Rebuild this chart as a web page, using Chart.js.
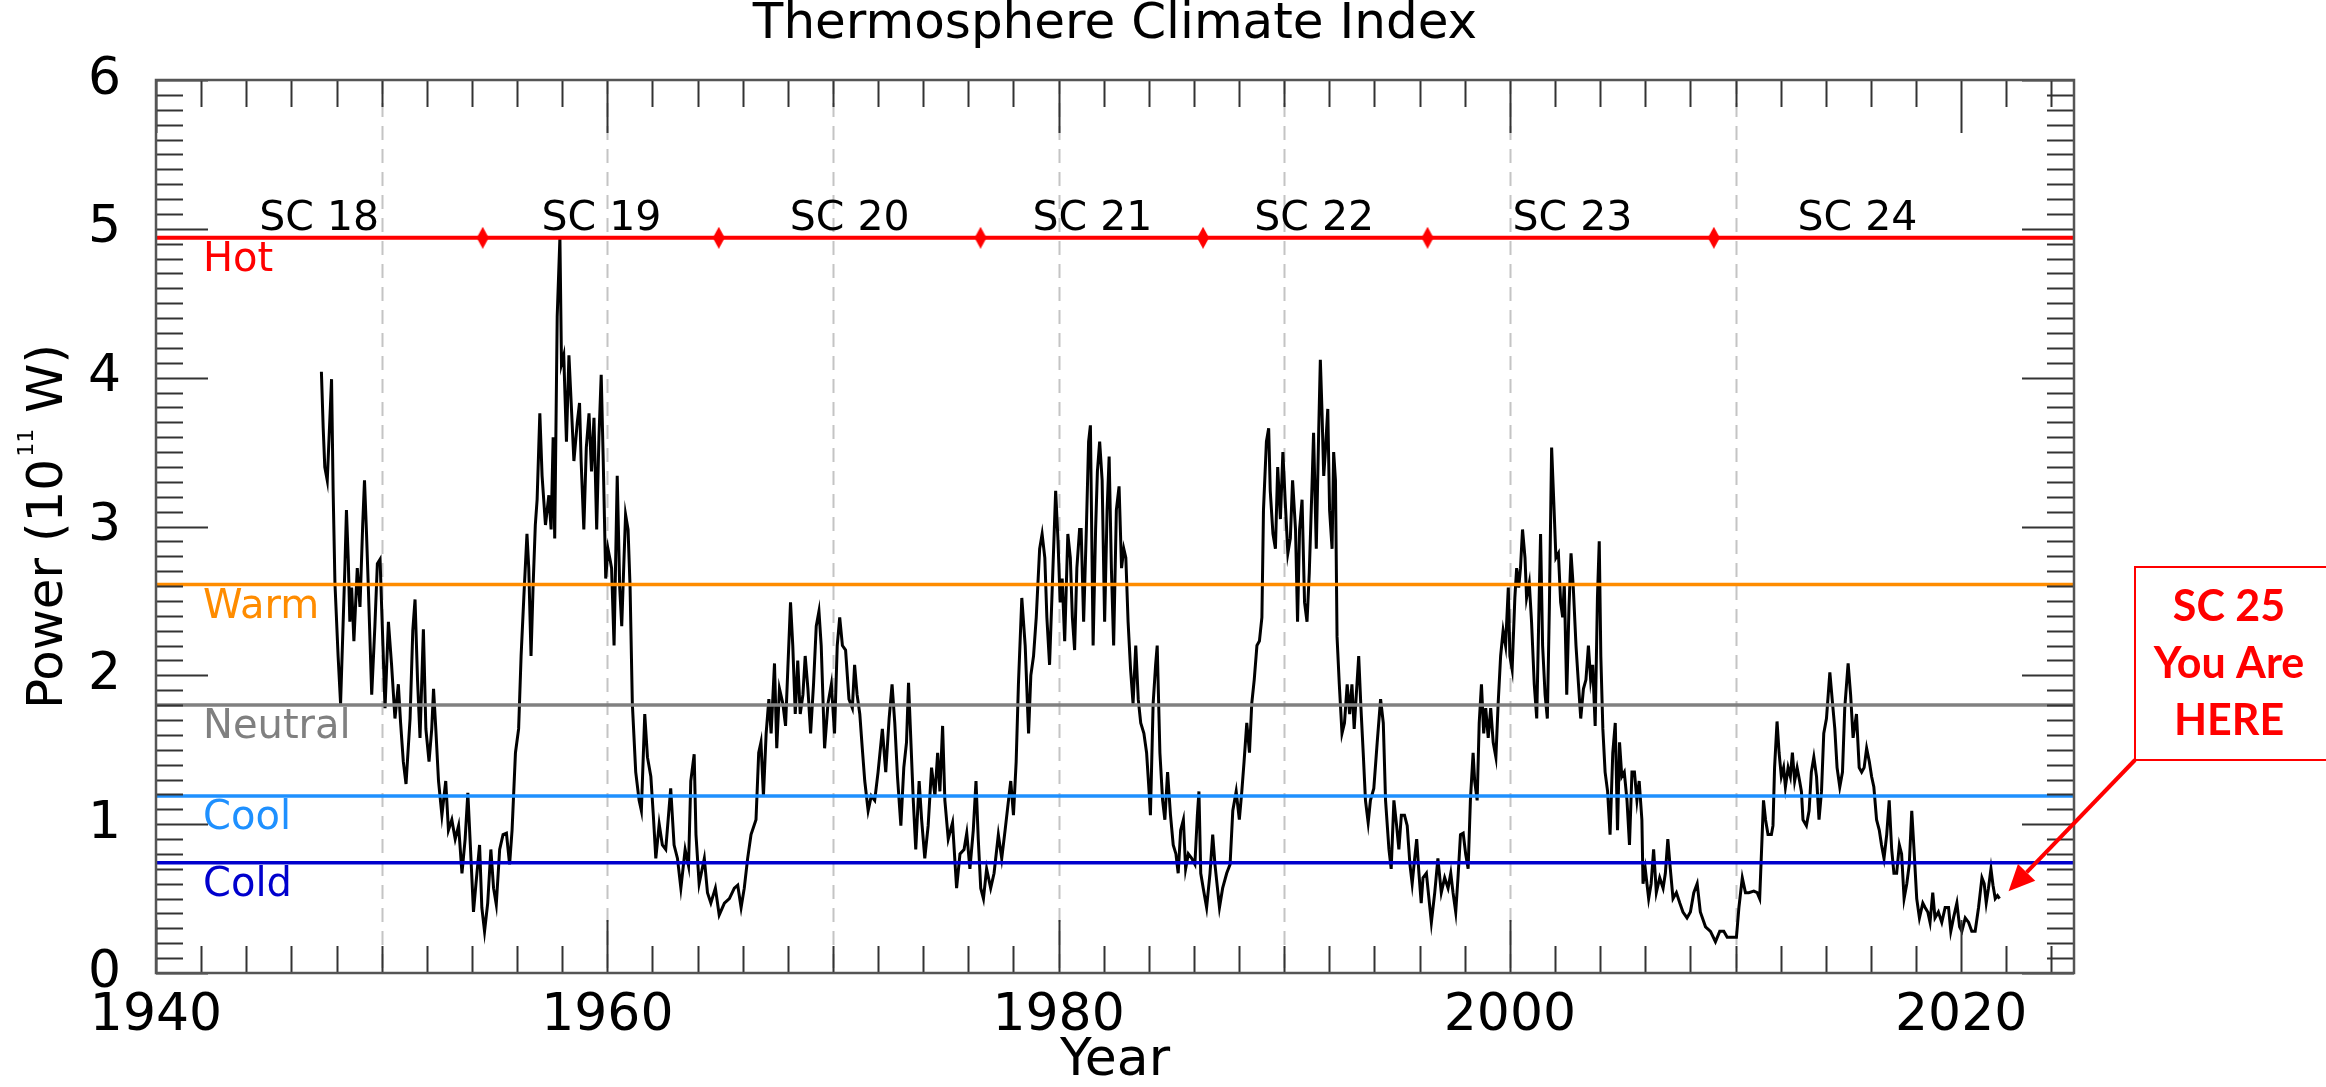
<!DOCTYPE html>
<html>
<head>
<meta charset="utf-8">
<title>Thermosphere Climate Index</title>
<script src="https://cdn.jsdelivr.net/npm/chart.js@4.4.0/dist/chart.umd.min.js"></script>
<style>
  html, body { margin: 0; padding: 0; background: #fff; }
  #wrap { width: 2326px; height: 1087px; }
</style>
</head>
<body>
<div id="wrap"><canvas id="tci" width="2326" height="1087"></canvas></div>
<script>
// ── Data ───────────────────────────────────────────────────────────────────
const YEARS = [
  1947.33, 1947.41, 1947.48, 1947.59, 1947.78, 1947.85, 1947.93, 1948.07, 1948.18, 1948.37,
  1948.44, 1948.52, 1948.59, 1948.67, 1948.77, 1948.92, 1949.04, 1949.16, 1949.24, 1949.33,
  1949.41, 1949.56, 1949.70, 1949.81, 1949.93, 1950.00, 1950.15, 1950.30, 1950.44, 1950.59,
  1950.74, 1950.84, 1950.96, 1951.08, 1951.26, 1951.38, 1951.48, 1951.59, 1951.70, 1951.85,
  1951.96, 1952.10, 1952.22, 1952.30, 1952.40, 1952.52, 1952.67, 1952.84, 1952.96, 1953.11,
  1953.26, 1953.41, 1953.56, 1953.70, 1953.82, 1953.93, 1954.07, 1954.18, 1954.34, 1954.44,
  1954.56, 1954.70, 1954.84, 1954.96, 1955.08, 1955.23, 1955.38, 1955.53, 1955.67, 1955.78,
  1955.93, 1956.07, 1956.18, 1956.30, 1956.44, 1956.52, 1956.62, 1956.71, 1956.81, 1956.89,
  1957.01, 1957.11, 1957.26, 1957.41, 1957.51, 1957.60, 1957.67, 1957.78, 1957.90, 1957.97,
  1958.07, 1958.19, 1958.30, 1958.40, 1958.52, 1958.67, 1958.77, 1958.84, 1958.96, 1959.07,
  1959.19, 1959.30, 1959.41, 1959.53, 1959.63, 1959.73, 1959.82, 1959.93, 1960.03, 1960.12,
  1960.19, 1960.30, 1960.44, 1960.55, 1960.64, 1960.74, 1960.81, 1960.92, 1961.01, 1961.11,
  1961.26, 1961.41, 1961.51, 1961.66, 1961.78, 1961.93, 1962.04, 1962.15,
  1962.30, 1962.44, 1962.59, 1962.81, 1962.96, 1963.11, 1963.26, 1963.45, 1963.60, 1963.70,
  1963.85, 1963.93, 1964.07, 1964.30, 1964.44, 1964.59, 1964.79, 1964.96, 1965.19, 1965.41,
  1965.63, 1965.78, 1965.93, 1966.07, 1966.22, 1966.37, 1966.59, 1966.71, 1966.81, 1966.92,
  1967.04, 1967.16, 1967.26, 1967.41, 1967.51, 1967.63, 1967.78, 1967.90, 1968.00, 1968.12,
  1968.22, 1968.33, 1968.44, 1968.55, 1968.67, 1968.77, 1968.89, 1969.01, 1969.14, 1969.26,
  1969.38, 1969.48, 1969.63, 1969.78, 1969.93, 1970.07, 1970.19, 1970.30, 1970.42, 1970.56,
  1970.71, 1970.86, 1970.96, 1971.07, 1971.19, 1971.30, 1971.41, 1971.56, 1971.70, 1971.85,
  1972.00, 1972.19, 1972.34, 1972.49, 1972.62, 1972.74, 1972.86, 1973.01, 1973.14, 1973.26,
  1973.35, 1973.44, 1973.56, 1973.67, 1973.82, 1973.93, 1974.07, 1974.22, 1974.37, 1974.52,
  1974.64, 1974.74, 1974.86, 1974.96, 1975.11, 1975.30, 1975.48, 1975.63, 1975.81, 1975.93,
  1976.07, 1976.22, 1976.34, 1976.44, 1976.55, 1976.67, 1976.81, 1976.99, 1977.14, 1977.33,
  1977.48, 1977.63, 1977.78, 1977.88, 1978.00, 1978.12, 1978.22, 1978.37, 1978.52, 1978.67,
  1978.77, 1978.89, 1979.01,
  1979.16, 1979.27, 1979.39, 1979.48, 1979.60, 1979.72, 1979.87, 1979.97, 1980.07, 1980.16,
  1980.27, 1980.41, 1980.52, 1980.61, 1980.71, 1980.81, 1980.93, 1981.00, 1981.11, 1981.23,
  1981.33, 1981.41, 1981.53, 1981.64, 1981.72, 1981.82, 1981.93, 1982.04, 1982.15, 1982.24,
  1982.34, 1982.44, 1982.56, 1982.68, 1982.79, 1982.89, 1982.98, 1983.08, 1983.19, 1983.30,
  1983.42, 1983.53, 1983.64, 1983.78, 1983.90, 1984.01, 1984.07, 1984.19, 1984.30, 1984.37,
  1984.49, 1984.61, 1984.71, 1984.83, 1984.96, 1985.08, 1985.20, 1985.30, 1985.41, 1985.53,
  1985.63, 1985.75, 1985.90, 1986.04, 1986.15, 1986.22, 1986.30, 1986.41, 1986.56, 1986.71,
  1986.83, 1986.93, 1987.13, 1987.27, 1987.45, 1987.60, 1987.72, 1987.87, 1988.01, 1988.12,
  1988.22, 1988.34, 1988.46, 1988.56, 1988.67, 1988.79, 1988.90, 1989.01, 1989.08, 1989.21,
  1989.31, 1989.38, 1989.50, 1989.61, 1989.71, 1989.83, 1989.94, 1990.04, 1990.16, 1990.27,
  1990.37, 1990.50, 1990.59, 1990.68, 1990.79, 1990.90, 1991.01, 1991.11, 1991.23, 1991.30,
  1991.42, 1991.53, 1991.60, 1991.67, 1991.75, 1991.82, 1991.93, 1992.01, 1992.12, 1992.19,
  1992.27, 1992.34, 1992.44, 1992.56, 1992.67, 1992.79, 1992.90, 1993.00, 1993.10, 1993.21,
  1993.30, 1993.40, 1993.50, 1993.60, 1993.72, 1993.82, 1993.97, 1994.12, 1994.27, 1994.39,
  1994.49, 1994.64, 1994.74, 1994.86, 1994.98, 1995.08, 1995.19, 1995.33, 1995.45, 1995.57,
  1995.67, 1995.78, 1995.87, 1995.97, 1996.07,
  1996.15, 1996.30, 1996.40, 1996.52, 1996.67, 1996.81, 1996.96, 1997.11, 1997.26, 1997.38,
  1997.48, 1997.60, 1997.70, 1997.81, 1997.93, 1998.04, 1998.15, 1998.25, 1998.37, 1998.44,
  1998.55, 1998.64, 1998.74, 1998.84, 1998.93, 1999.04, 1999.15, 1999.26, 1999.38, 1999.48,
  1999.59, 1999.70, 1999.81, 1999.93, 2000.00, 2000.10, 2000.22, 2000.30, 2000.39, 2000.47,
  2000.56, 2000.67, 2000.74, 2000.86, 2000.96, 2001.08, 2001.19, 2001.29, 2001.36, 2001.45,
  2001.56, 2001.66, 2001.75, 2001.85, 2001.96, 2002.04, 2002.15, 2002.25, 2002.34, 2002.41,
  2002.52, 2002.62, 2002.71, 2002.81, 2002.93, 2003.04, 2003.14, 2003.26, 2003.37, 2003.48,
  2003.58, 2003.67, 2003.78, 2003.88, 2003.96, 2004.03, 2004.12, 2004.22, 2004.33, 2004.44,
  2004.56, 2004.67, 2004.77, 2004.86, 2004.96, 2005.07, 2005.19, 2005.30, 2005.41, 2005.52,
  2005.63, 2005.73, 2005.85, 2005.90, 2006.00, 2006.15, 2006.26, 2006.37, 2006.49, 2006.64,
  2006.79, 2006.89, 2007.00, 2007.11, 2007.23, 2007.38, 2007.53, 2007.67, 2007.85, 2008.00,
  2008.15, 2008.30, 2008.44, 2008.67, 2008.89, 2009.11, 2009.30, 2009.48, 2009.63, 2009.85,
  2010.04, 2010.15, 2010.30, 2010.44, 2010.59, 2010.81, 2010.96,
  2011.07, 2011.24, 2011.33, 2011.44, 2011.59, 2011.66, 2011.73, 2011.84, 2011.93, 2012.03,
  2012.13, 2012.21, 2012.33, 2012.43, 2012.52, 2012.62, 2012.73, 2012.84, 2012.92, 2012.99,
  2013.14, 2013.26, 2013.36, 2013.47, 2013.59, 2013.70, 2013.81, 2013.91, 2014.03, 2014.18,
  2014.30, 2014.40, 2014.50, 2014.62, 2014.74, 2014.84, 2014.99, 2015.10, 2015.21, 2015.36,
  2015.48, 2015.59, 2015.70, 2015.81, 2015.93, 2016.03, 2016.13, 2016.25, 2016.37, 2016.47,
  2016.58, 2016.70, 2016.81, 2016.92, 2017.02, 2017.14, 2017.26, 2017.36, 2017.47, 2017.59,
  2017.70, 2017.81, 2017.91, 2018.03, 2018.15, 2018.30, 2018.40, 2018.52, 2018.62, 2018.74,
  2018.84, 2018.99, 2019.14, 2019.29, 2019.44, 2019.54, 2019.66, 2019.81, 2019.93, 2020.03,
  2020.18, 2020.33, 2020.47, 2020.62, 2020.77, 2020.92, 2021.02, 2021.11, 2021.21, 2021.32,
  2021.41, 2021.51, 2021.61, 2021.70
];

const POWER = [
  4.04, 3.66, 3.40, 3.31, 3.99, 3.24, 2.62, 2.13, 1.81, 2.72,
  3.11, 2.78, 2.36, 2.59, 2.23, 2.72, 2.46, 3.01, 3.31, 2.95,
  2.59, 1.87, 2.33, 2.75, 2.78, 2.46, 1.78, 2.36, 2.07, 1.71,
  1.94, 1.68, 1.42, 1.27, 1.71, 2.30, 2.51, 1.97, 1.58, 2.31,
  1.64, 1.42, 1.64, 1.91, 1.64, 1.29, 1.06, 1.29, 0.96, 1.03,
  0.90, 0.99, 0.67, 0.90, 1.21, 0.86, 0.41, 0.60, 0.86, 0.44,
  0.28, 0.47, 0.83, 0.57, 0.46, 0.83, 0.93, 0.94, 0.73, 0.96,
  1.48, 1.64, 2.13, 2.52, 2.95, 2.72, 2.13, 2.59, 3.01, 3.18,
  3.76, 3.34, 3.01, 3.21, 2.98, 3.60, 2.92, 4.41, 4.94, 4.09,
  4.15, 3.57, 4.15, 3.83, 3.44, 3.70, 3.83, 3.44, 2.98, 3.53,
  3.76, 3.37, 3.73, 2.98, 3.60, 4.02, 3.44, 2.65, 2.85, 2.78,
  2.72, 2.20, 3.34, 2.59, 2.33, 2.78, 3.08, 2.98, 2.59, 1.81,
  1.35, 1.16, 1.09, 1.74, 1.45, 1.32, 1.06, 0.77,
  1.00, 0.86, 0.83, 1.24, 0.86, 0.77, 0.57, 0.83, 0.72, 1.29,
  1.47, 0.93, 0.60, 0.77, 0.54, 0.47, 0.57, 0.39, 0.47, 0.50,
  0.57, 0.59, 0.44, 0.57, 0.77, 0.93, 1.03, 1.48, 1.55, 1.19,
  1.61, 1.84, 1.61, 2.08, 1.51, 1.91, 1.81, 1.66, 2.04, 2.49,
  2.20, 1.74, 2.10, 1.74, 1.87, 2.13, 1.91, 1.61, 1.94, 2.33,
  2.43, 2.20, 1.51, 1.81, 1.94, 1.61, 2.20, 2.39, 2.20, 2.17,
  1.84, 1.78, 2.07, 1.87, 1.74, 1.51, 1.29, 1.09, 1.19, 1.16,
  1.35, 1.64, 1.35, 1.71, 1.94, 1.68, 1.32, 0.99, 1.38, 1.55,
  1.95, 1.61, 1.16, 0.83, 1.29, 1.03, 0.77, 0.99, 1.38, 1.19,
  1.48, 1.22, 1.66, 1.16, 0.90, 1.01, 0.57, 0.80, 0.83, 0.94,
  0.70, 0.96, 1.29, 0.90, 0.57, 0.50, 0.70, 0.57, 0.67, 0.93,
  0.77, 0.96, 1.16, 1.29, 1.06, 1.42, 1.94, 2.52, 2.20, 1.61,
  2.00, 2.13, 2.39,
  2.85, 2.95, 2.79, 2.39, 2.07, 2.59, 3.24, 2.92, 2.49, 2.65,
  2.23, 2.95, 2.79, 2.39, 2.17, 2.72, 2.98, 2.98, 2.36, 2.98,
  3.57, 3.68, 2.20, 2.98, 3.37, 3.57, 3.31, 2.36, 3.11, 3.47,
  2.72, 2.20, 3.11, 3.27, 2.72, 2.85, 2.79, 2.36, 2.04, 1.81,
  2.20, 1.84, 1.68, 1.61, 1.48, 1.22, 1.06, 1.81, 2.07, 2.20,
  1.48, 1.16, 1.03, 1.35, 1.06, 0.86, 0.80, 0.67, 0.96, 1.03,
  0.70, 0.80, 0.77, 0.73, 1.06, 1.22, 0.67, 0.57, 0.44, 0.67,
  0.93, 0.73, 0.44, 0.57, 0.67, 0.73, 1.09, 1.22, 1.03, 1.22,
  1.42, 1.68, 1.48, 1.81, 1.97, 2.20, 2.23, 2.39, 3.11, 3.57,
  3.66, 3.24, 2.95, 2.85, 3.40, 3.05, 3.50, 3.18, 2.82, 2.92,
  3.31, 2.98, 2.36, 2.98, 3.18, 2.49, 2.36, 2.69, 3.27, 3.63,
  2.85, 3.66, 4.12, 3.79, 3.34, 3.50, 3.79, 3.11, 2.85, 3.50,
  3.31, 2.26, 1.94, 1.61, 1.68, 1.94, 1.74, 1.94, 1.64, 1.91,
  2.13, 1.78, 1.48, 1.16, 1.01, 1.16, 1.24, 1.55, 1.84, 1.68,
  1.16, 0.83, 0.70, 1.16, 0.99, 0.83, 1.06, 1.06, 0.99, 0.73,
  0.60, 0.77, 0.90, 0.67, 0.47,
  0.64, 0.67, 0.52, 0.34, 0.54, 0.77, 0.54, 0.64, 0.57, 0.67,
  0.54, 0.41, 0.64, 0.93, 0.94, 0.80, 0.70, 1.16, 1.48, 1.29,
  1.16, 1.68, 1.94, 1.61, 1.78, 1.58, 1.78, 1.55, 1.45, 1.81,
  2.13, 2.30, 2.20, 2.59, 2.13, 2.04, 2.52, 2.72, 2.59, 2.72,
  2.98, 2.79, 2.52, 2.62, 2.36, 1.94, 1.71, 2.46, 2.95, 2.20,
  1.87, 1.71, 2.46, 3.53, 3.11, 2.79, 2.82, 2.49, 2.39, 2.62,
  1.87, 2.46, 2.82, 2.59, 2.20, 1.94, 1.71, 1.91, 1.97, 2.20,
  1.97, 2.07, 1.66, 2.52, 2.90, 2.13, 1.64, 1.35, 1.22, 0.93,
  1.48, 1.68, 0.96, 1.55, 1.32, 1.35, 1.16, 0.86, 1.35, 1.35,
  1.16, 1.29, 1.03, 0.60, 0.70, 0.50, 0.60, 0.83, 0.54, 0.64,
  0.57, 0.67, 0.90, 0.70, 0.50, 0.54, 0.47, 0.41, 0.37, 0.41,
  0.54, 0.60, 0.41, 0.31, 0.28, 0.21, 0.28, 0.28, 0.24, 0.24,
  0.24, 0.44, 0.64, 0.54, 0.54, 0.55, 0.54,
  0.50, 1.16, 1.03, 0.93, 0.93, 0.99, 1.38, 1.69, 1.48, 1.32,
  1.38, 1.25, 1.38, 1.32, 1.48, 1.29, 1.38, 1.29, 1.22, 1.03,
  0.99, 1.09, 1.35, 1.45, 1.32, 1.03, 1.22, 1.61, 1.71, 2.02,
  1.81, 1.64, 1.38, 1.25, 1.35, 1.78, 2.08, 1.87, 1.58, 1.74,
  1.38, 1.35, 1.38, 1.51, 1.42, 1.32, 1.25, 1.03, 0.96, 0.86,
  0.77, 0.93, 1.16, 0.83, 0.67, 0.67, 0.86, 0.80, 0.50, 0.60,
  0.73, 1.09, 0.83, 0.50, 0.37, 0.47, 0.44, 0.41, 0.34, 0.54,
  0.37, 0.41, 0.34, 0.44, 0.44, 0.28, 0.37, 0.47, 0.31, 0.28,
  0.37, 0.34, 0.28, 0.28, 0.44, 0.64, 0.60, 0.47, 0.57, 0.70,
  0.59, 0.50, 0.52, 0.50
];

// Activity levels (horizontal reference lines)
const LEVEL_NAMES  = ['Hot', 'Warm', 'Neutral', 'Cool', 'Cold'];
const LEVEL_VALUES = [4.94, 2.61, 1.80, 1.19, 0.74];
const LEVEL_COLORS = ['#ff0000', '#ff8c00', '#808080', '#1e90ff', '#0000cd'];

// Solar cycle minima (red diamonds) and cycle labels
const CYCLE_MIN_YEARS   = [1954.48, 1964.94, 1976.54, 1986.40, 1996.35, 2009.04];
const CYCLE_LABELS      = ['SC 18', 'SC 19', 'SC 20', 'SC 21', 'SC 22', 'SC 23', 'SC 24'];
const CYCLE_LABEL_YEARS = [1947.23, 1959.74, 1970.74, 1981.50, 1991.33, 2002.77, 2015.40];

// Dashed decade grid lines
const GRID_YEARS = [1950, 1960, 1970, 1980, 1990, 2000, 2010];

// Callout
const NOW_TEXT  = ['SC 25', 'You Are', 'HERE'];
const NOW_YEAR  = 2022.1;
const NOW_POWER = 0.55;

const FONT = 'DejaVu Sans';
Chart.defaults.font.family = FONT;
Chart.defaults.color = '#000';

/** narrow red diamond used as point style */
function diamondImage(w, h, color) {
  const c = document.createElement('canvas');
  c.width = w; c.height = h;
  const g = c.getContext('2d');
  g.fillStyle = color;
  g.beginPath();
  g.moveTo(w / 2, 0); g.lineTo(w, h / 2); g.lineTo(w / 2, h); g.lineTo(0, h / 2);
  g.closePath();
  g.fill();
  return c;
}

// ── Plugins ───────────────────────────────────────────────────────────────
const decadeGrid = {
  id: 'decadeGrid',
  beforeDatasetsDraw(chart) {
    const { ctx, chartArea: a, scales: { x } } = chart;
    ctx.save();
    ctx.strokeStyle = '#c4c4c4';
    ctx.lineWidth = 2;
    ctx.setLineDash([14, 9]);
    GRID_YEARS.forEach(yr => {
      const px = Math.round(x.getPixelForValue(yr)) + 0.5;
      ctx.beginPath(); ctx.moveTo(px, a.top); ctx.lineTo(px, a.bottom); ctx.stroke();
    });
    ctx.restore();
  },
};

const labels = {
  id: 'labels',
  afterDatasetsDraw(chart) {
    const { ctx, chartArea: a, scales: { x, y } } = chart;
    ctx.save();
    ctx.textBaseline = 'alphabetic';

    // level names, just under each line
    ctx.font = `40px '${FONT}'`;
    ctx.textAlign = 'left';
    LEVEL_NAMES.forEach((name, i) => {
      ctx.fillStyle = LEVEL_COLORS[i];
      ctx.fillText(name, a.left + 47, y.getPixelForValue(LEVEL_VALUES[i]) + 33);
    });

    // cycle names, just above the Hot line
    ctx.font = `41px '${FONT}'`;
    ctx.textAlign = 'center';
    ctx.fillStyle = '#000';
    const yHot = y.getPixelForValue(LEVEL_VALUES[0]);
    CYCLE_LABELS.forEach((lab, i) => {
      ctx.fillText(lab, x.getPixelForValue(CYCLE_LABEL_YEARS[i]), yHot - 8);
    });
    ctx.restore();
  },
};

const frame = {
  id: 'frame',
  afterDraw(chart) {
    const { ctx, chartArea: a, scales: { x, y } } = chart;
    ctx.save();
    ctx.strokeStyle = '#333';
    ctx.lineWidth = 2;
    const seg = (x1, y1, x2, y2) => { ctx.beginPath(); ctx.moveTo(x1, y1); ctx.lineTo(x2, y2); ctx.stroke(); };

    // inward ticks on all four sides
    for (let yr = 1940; yr <= 2025; yr += 2) {
      const px = Math.round(x.getPixelForValue(yr)) + 0.5;
      const len = yr % 20 === 0 ? 53 : 27;
      seg(px, a.bottom, px, a.bottom - len);
      seg(px, a.top, px, a.top + len);
    }
    for (let k = 0; k <= 60; k++) {
      const py = Math.round(y.getPixelForValue(k / 10)) + 0.5;
      const len = k % 10 === 0 ? 52 : 27;
      seg(a.left, py, a.left + len, py);
      seg(a.right, py, a.right - len, py);
    }

    ctx.strokeStyle = '#555';
    ctx.lineWidth = 2.5;
    ctx.strokeRect(a.left, a.top, a.right - a.left, a.bottom - a.top);

    // y-axis title with a real superscript
    const big = `50px '${FONT}'`, small = `22px '${FONT}'`;
    const p1 = 'Power (10', sup = '11', p2 = ' W)';
    ctx.font = big;   const w1 = ctx.measureText(p1).width, w3 = ctx.measureText(p2).width;
    ctx.font = small; const w2 = ctx.measureText(sup).width;
    const total = w1 + 2 + w2 + w3;
    ctx.save();
    ctx.translate(62, (a.top + a.bottom) / 2);
    ctx.rotate(-Math.PI / 2);
    ctx.fillStyle = '#000';
    ctx.textAlign = 'left';
    ctx.textBaseline = 'alphabetic';
    let cx = -total / 2;
    ctx.font = big;   ctx.fillText(p1, cx, 0); cx += w1 + 2;
    ctx.font = small; ctx.fillText(sup, cx, -29); cx += w2;
    ctx.font = big;   ctx.fillText(p2, cx, 0);
    ctx.restore();

    // "You are here" callout
    const boxL = a.right + 61, boxT = 567, boxB = 760;
    ctx.strokeStyle = '#ff0000';
    ctx.lineWidth = 2;
    ctx.strokeRect(boxL, boxT, chart.width + 20 - boxL, boxB - boxT);

    ctx.fillStyle = '#ff0000';
    ctx.font = "bold 43px Lato";
    ctx.textAlign = 'center';
    ctx.textBaseline = 'alphabetic';
    NOW_TEXT.forEach((t, i) => ctx.fillText(t, a.right + 155, 621 + i * 57));

    const tx = x.getPixelForValue(NOW_YEAR), ty = y.getPixelForValue(NOW_POWER);
    const ang = Math.atan2(ty - boxB, tx - boxL);
    const head = 26, half = 12;
    const bx = tx - head * Math.cos(ang), by = ty - head * Math.sin(ang);
    ctx.lineWidth = 4;
    seg(boxL, boxB, bx, by);
    ctx.beginPath();
    ctx.moveTo(tx, ty);
    ctx.lineTo(bx + half * Math.sin(ang), by - half * Math.cos(ang));
    ctx.lineTo(bx - half * Math.sin(ang), by + half * Math.cos(ang));
    ctx.closePath();
    ctx.fill();
    ctx.restore();
  },
};

// ── Chart ────────────────────────────────────────────────────────────────
const levelSets = LEVEL_VALUES.map((v, i) => ({
  label: LEVEL_NAMES[i],
  data: [{ x: 1940, y: v }, { x: 2025, y: v }],
  borderColor: LEVEL_COLORS[i],
  borderWidth: i === 0 ? 4 : 3.5,
  pointRadius: 0,
  order: 2,
}));

new Chart(document.getElementById('tci'), {
  type: 'line',
  data: {
    datasets: [
      {
        label: 'TCI',
        data: YEARS.map((yr, i) => ({ x: yr, y: POWER[i] })),
        borderColor: '#000',
        borderWidth: 3,
        pointRadius: 0,
        tension: 0,
        order: 3,
      },
      ...levelSets,
      {
        label: 'Cycle minima',
        data: CYCLE_MIN_YEARS.map(yr => ({ x: yr, y: LEVEL_VALUES[0] })),
        showLine: false,
        pointStyle: diamondImage(12, 22, '#ff0000'),
        pointRadius: 11,
        order: 1,
      },
    ],
  },
  options: {
    responsive: false,
    animation: false,
    events: [],
    layout: { padding: { left: 0, right: 252, top: 0, bottom: 0 } },
    plugins: {
      legend: { display: false },
      tooltip: { enabled: false },
      title: {
        display: true,
        fullSize: false,
        text: 'Thermosphere Climate Index',
        color: '#000',
        font: { family: FONT, size: 50, weight: 'normal', lineHeight: 1 },
        padding: { top: 0, bottom: 30 },
      },
    },
    scales: {
      x: {
        type: 'linear',
        min: 1940,
        max: 2025,
        grid: { display: false },
        border: { display: false },
        ticks: {
          stepSize: 20,
          includeBounds: false,
          autoSkip: false,
          maxRotation: 0,
          padding: 4,
          color: '#000',
          font: { size: 52 },
          callback: v => String(v),
        },
        title: {
          display: true,
          text: 'Year',
          color: '#000',
          font: { size: 52, lineHeight: 1 },
          padding: { top: 0, bottom: 0 },
        },
        afterFit: s => { s.height = 114; },
      },
      y: {
        min: 0,
        max: 6,
        grid: { display: false },
        border: { display: false },
        ticks: {
          stepSize: 1,
          padding: 27,
          color: '#000',
          font: { size: 52 },
          callback: v => String(v),
        },
        afterFit: s => { s.width = 156; },
      },
    },
  },
  plugins: [decadeGrid, labels, frame],
});
</script>
</body>
</html>
